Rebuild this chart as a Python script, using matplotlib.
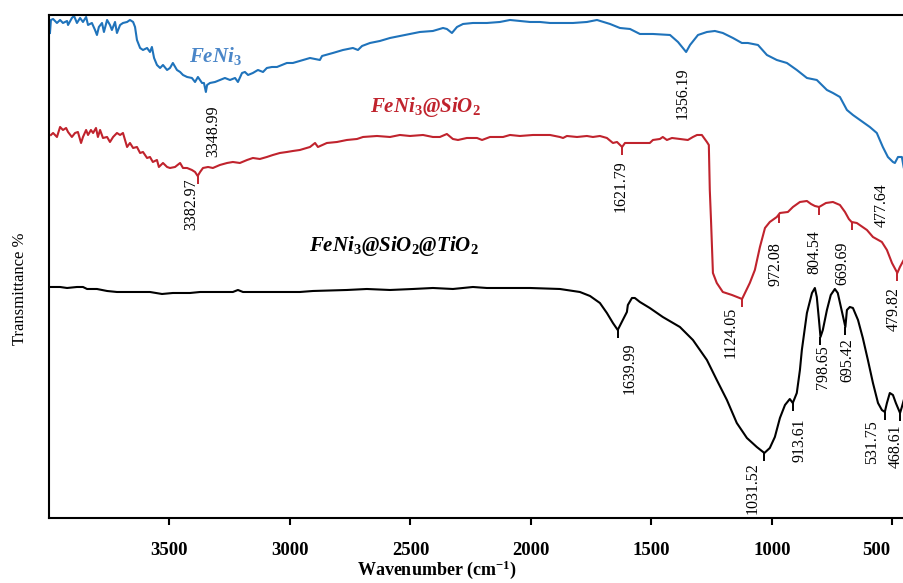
import matplotlib
matplotlib.use("Agg")
import matplotlib.pyplot as plt
import matplotlib.transforms as mtransforms
import numpy as np

plt.rcParams["font.family"] = ["Liberation Serif", "DejaVu Serif"]
plt.rcParams["mathtext.fontset"] = "custom"
plt.rcParams["mathtext.rm"] = "Liberation Serif:bold"
plt.rcParams["mathtext.it"] = "Liberation Serif:italic:bold"
plt.rcParams["mathtext.bf"] = "Liberation Serif:bold"

# FeNi3 spectrum (wavenumber, offset transmittance)
feni3_wn = [3996, 3992, 3983, 3967, 3954, 3942, 3925, 3921, 3905, 3896, 3884, 3871, 3859,
            3846, 3838, 3822, 3809, 3801, 3793, 3780, 3772, 3759, 3747, 3739, 3726, 3718,
            3705, 3693, 3676, 3664, 3651, 3643, 3635, 3622, 3610, 3593, 3581, 3573, 3564,
            3552, 3539, 3527, 3510, 3498, 3486, 3469, 3456, 3444, 3427, 3407, 3394, 3382,
            3365, 3357, 3348.99, 3344, 3332, 3311, 3291, 3270, 3249, 3228, 3216, 3199, 3187,
            3174, 3154, 3133, 3112, 3096, 3075, 3054, 3033, 3013, 2988, 2959, 2917, 2876,
            2867, 2822, 2780, 2739, 2718, 2701, 2668, 2627, 2585, 2544, 2502, 2461, 2407,
            2365, 2349, 2328, 2307, 2282, 2241, 2183, 2129, 2087, 2046, 2004, 1963, 1921,
            1880, 1826, 1768, 1726, 1672, 1631, 1589, 1548, 1494, 1423, 1390, 1356.19, 1340,
            1307, 1270, 1237, 1204, 1162, 1125, 1100, 1058, 1021, 980, 938, 897, 855, 814,
            772, 747, 718, 689, 664, 635, 594, 565, 540, 519, 498, 490, 477, 461, 453, 440]
feni3_t = [485, 498, 499, 495, 498, 495, 497, 493, 500, 502, 495, 500, 496,
           501, 493, 495, 488, 483, 491, 495, 486, 498, 493, 488, 496, 485,
           493, 495, 496, 498, 496, 491, 478, 470, 468, 470, 466, 471, 460,
           453, 450, 453, 448, 450, 455, 448, 446, 443, 441, 440, 436, 441,
           435, 435, 426, 433, 435, 436, 438, 440, 438, 440, 436, 445, 446,
           443, 445, 448, 446, 450, 451, 451, 453, 455, 455, 457, 460, 458,
           462, 465, 468, 470, 468, 472, 475, 477, 480, 482, 484, 486, 487,
           490, 489, 485, 491, 494, 495, 495, 496, 498, 497, 496, 496, 495,
           495, 495, 496, 498, 494, 490, 489, 484, 484, 483, 476, 466, 473,
           483, 486, 487, 485, 480, 475, 475, 473, 463, 458, 455, 448, 440, 438,
           428, 425, 421, 408, 403, 398, 391, 385, 371, 361, 356, 355, 361, 361, 350, 345]

# FeNi3@SiO2 spectrum
sio2_wn = [3992, 3983, 3967, 3954, 3942, 3929, 3921, 3905, 3892, 3880, 3867, 3859, 3846,
           3838, 3826, 3817, 3805, 3797, 3788, 3776, 3759, 3747, 3734, 3718, 3705, 3693,
           3676, 3664, 3651, 3635, 3622, 3610, 3593, 3581, 3569, 3552, 3544, 3527, 3510,
           3498, 3477, 3456, 3444, 3427, 3407, 3394, 3382.97, 3373, 3361, 3340, 3320, 3291,
           3261, 3237, 3208, 3178, 3154, 3125, 3096, 3071, 3042, 3013, 2988, 2959, 2917,
           2896, 2884, 2847, 2805, 2764, 2722, 2697, 2639, 2585, 2544, 2502, 2448, 2407,
           2378, 2349, 2324, 2303, 2266, 2224, 2203, 2170, 2116, 2087, 2046, 1992, 1921,
           1880, 1867, 1851, 1809, 1768, 1743, 1714, 1685, 1660, 1643, 1621.79, 1610, 1577,
           1507, 1494, 1465, 1453, 1436, 1415, 1382, 1349, 1328, 1311, 1291, 1270, 1262,
           1258, 1253, 1249, 1245, 1229, 1204, 1166, 1124.05, 1112, 1092, 1071, 1050, 1029,
           1009, 980, 967, 934, 913, 884, 855, 838, 822, 804.54, 776, 747, 718, 697, 681,
           669.69, 648, 606, 581, 544, 523, 502, 479.82, 469, 453, 440]
sio2_t = [383, 385, 381, 391, 388, 390, 386, 381, 385, 386, 375, 381, 388,
          383, 388, 385, 390, 381, 388, 380, 381, 376, 381, 385, 383, 385,
          371, 375, 370, 371, 365, 366, 360, 361, 356, 358, 351, 355, 351,
          350, 351, 355, 350, 350, 348, 346, 342, 346, 350, 351, 350, 353,
          355, 356, 355, 358, 360, 359, 361, 363, 365, 366, 367, 368, 371,
          375, 371, 375, 376, 378, 379, 381, 382, 381, 383, 382, 383, 381,
          381, 384, 379, 378, 380, 380, 378, 381, 381, 383, 382, 383, 383,
          381, 380, 382, 381, 382, 381, 382, 380, 375, 376, 371, 375, 375,
          375, 378, 379, 381, 378, 380, 379, 378, 381, 383, 383, 376, 373,
          328, 298, 271, 245, 235, 226, 223, 219, 225, 235, 248, 271, 290,
          296, 301, 305, 306, 311, 316, 317, 314, 312, 311, 315, 316, 313, 306, 299,
          296, 295, 288, 281, 276, 268, 255, 245, 251, 258, 266]

# FeNi3@SiO2@TiO2 spectrum
tio2_wn = [3992, 3954, 3925, 3884, 3859, 3842, 3801, 3759, 3718, 3651, 3581, 3531, 3486,
           3415, 3373, 3303, 3237, 3216, 3195, 3154, 3096, 3029, 2959, 2905, 2764, 2681,
           2585, 2490, 2407, 2324, 2241, 2183, 2075, 2004, 1880, 1797, 1755, 1714, 1685,
           1660, 1639.99, 1619, 1602, 1598, 1581, 1569, 1548, 1507, 1453, 1382, 1328, 1270,
           1229, 1187, 1146, 1104, 1063, 1031.52, 1009, 988, 967, 946, 926, 913.61, 897,
           884, 876, 855, 834, 822, 814, 805, 798.65, 789, 772, 756, 739, 727, 714, 695.42,
           689, 677, 664, 643, 623, 602, 581, 560, 544, 531.75, 523, 511, 498, 486, 468.6,
           461, 453, 440]
tio2_t = [231, 231, 230, 231, 231, 229, 229, 227, 226, 226, 226, 224, 225,
          225, 226, 226, 226, 228, 226, 226, 226, 226, 226, 227, 228, 229,
          228, 229, 230, 229, 231, 230, 230, 230, 229, 226, 222, 215, 205,
          195, 188, 198, 206, 213, 220, 220, 216, 210, 201, 191, 178, 158,
          138, 118, 95, 80, 71, 65, 70, 81, 100, 113, 119, 115, 125,
          148, 168, 205, 225, 230, 221, 198, 181, 188, 208, 223, 229, 225, 211, 191,
          208, 211, 210, 198, 180, 158, 135, 115, 108, 106, 115, 125, 123, 115, 105,
          111, 118, 128]

feni3_peaks = ["3348.99", "1356.19", "477.64"]
sio2_peaks = ["3382.97", "1621.79", "1124.05", "972.08", "804.54", "669.69", "479.82"]
tio2_peaks = ["1639.99", "1031.52", "913.61", "798.65", "695.42", "531.75", "468.61"]

xticks = [3500, 3000, 2500, 2000, 1500, 1000, 500]

# where each peak label sits (x, top of text)
label_pos = {
    "3348.99": (3320, 413), "1356.19": (1370, 451), "477.64": (544, 335),
    "3382.97": (3411, 340), "1621.79": (1627, 358), "1124.05": (1170, 211),
    "972.08": (984, 276), "804.54": (822, 288), "669.69": (706, 276),
    "479.82": (494, 231), "1639.99": (1589, 176), "1031.52": (1079, 56),
    "913.61": (884, 100), "798.65": (789, 173), "695.42": (689, 180),
    "531.75": (585, 98), "468.61": (488, 94),
}

blue = "#1f73bb"
red = "#c0232d"

fig = plt.figure(figsize=(9.04, 5.83), dpi=100)
ax = fig.add_axes([0.0542, 0.1115, 0.9597, 0.8628])

series = [
    (feni3_wn, feni3_t, blue, feni3_peaks, False),
    (sio2_wn, sio2_t, red, sio2_peaks, True),
    (tio2_wn, tio2_t, "black", tio2_peaks, True),
]
for wn, t, c, peaks, marks in series:
    ax.plot(wn, t, color=c, lw=1.5)
    wn_a = np.array(wn)[::-1]
    t_a = np.array(t)[::-1]
    for p in peaks:
        if marks:
            yv = np.interp(float(p), wn_a, t_a)
            ax.vlines(float(p), yv - 8, yv, color=c, lw=1.4)
        lx, ly = label_pos[p]
        ax.text(lx, ly, p, rotation=90, ha="center", va="top", fontsize=11.5,
                color="black")

ax.text(3311, 462, r"FeNi$_\mathit{3}$", color="#4a86c8", fontsize=15,
        fontweight="bold", fontstyle="italic", ha="center", va="center")
ax.text(2436, 411, r"FeNi$_\mathit{3}$@SiO$_\mathit{2}$", color=red, fontsize=15,
        fontweight="bold", fontstyle="italic", ha="center", va="center")
ax.text(2569, 272, r"FeNi$_\mathit{3}$@SiO$_\mathit{2}$@TiO$_\mathit{2}$", color="black",
        fontsize=15, fontweight="bold", fontstyle="italic", ha="center", va="center")

ax.set_xlim(4000, 400)
ax.set_ylim(0, 503)
ax.set_xticks(xticks)
ax.set_xticklabels([str(v) for v in xticks], fontsize=13.5, fontweight="bold")
ax.set_yticks([])
ax.tick_params(axis="x", direction="out", length=5, width=1.5, pad=12)
for s in ["left", "top", "bottom"]:
    ax.spines[s].set_linewidth(1.5)
ax.spines["right"].set_visible(False)

# last tick label sits a little left of its tick, as in the original
last = ax.get_xticklabels()[-1]
last.set_transform(last.get_transform()
                   + mtransforms.ScaledTranslation(-16 / 100, 0, fig.dpi_scale_trans))

fig.text(0.483, 0.022, r"Wavenumber (cm$^{-1}$)", fontsize=13, fontweight="bold",
         ha="center", va="center")
fig.text(0.022, 0.505, "Transmittance %", fontsize=12, rotation=90,
         ha="center", va="center")

fig.savefig("out.png", dpi=100)
